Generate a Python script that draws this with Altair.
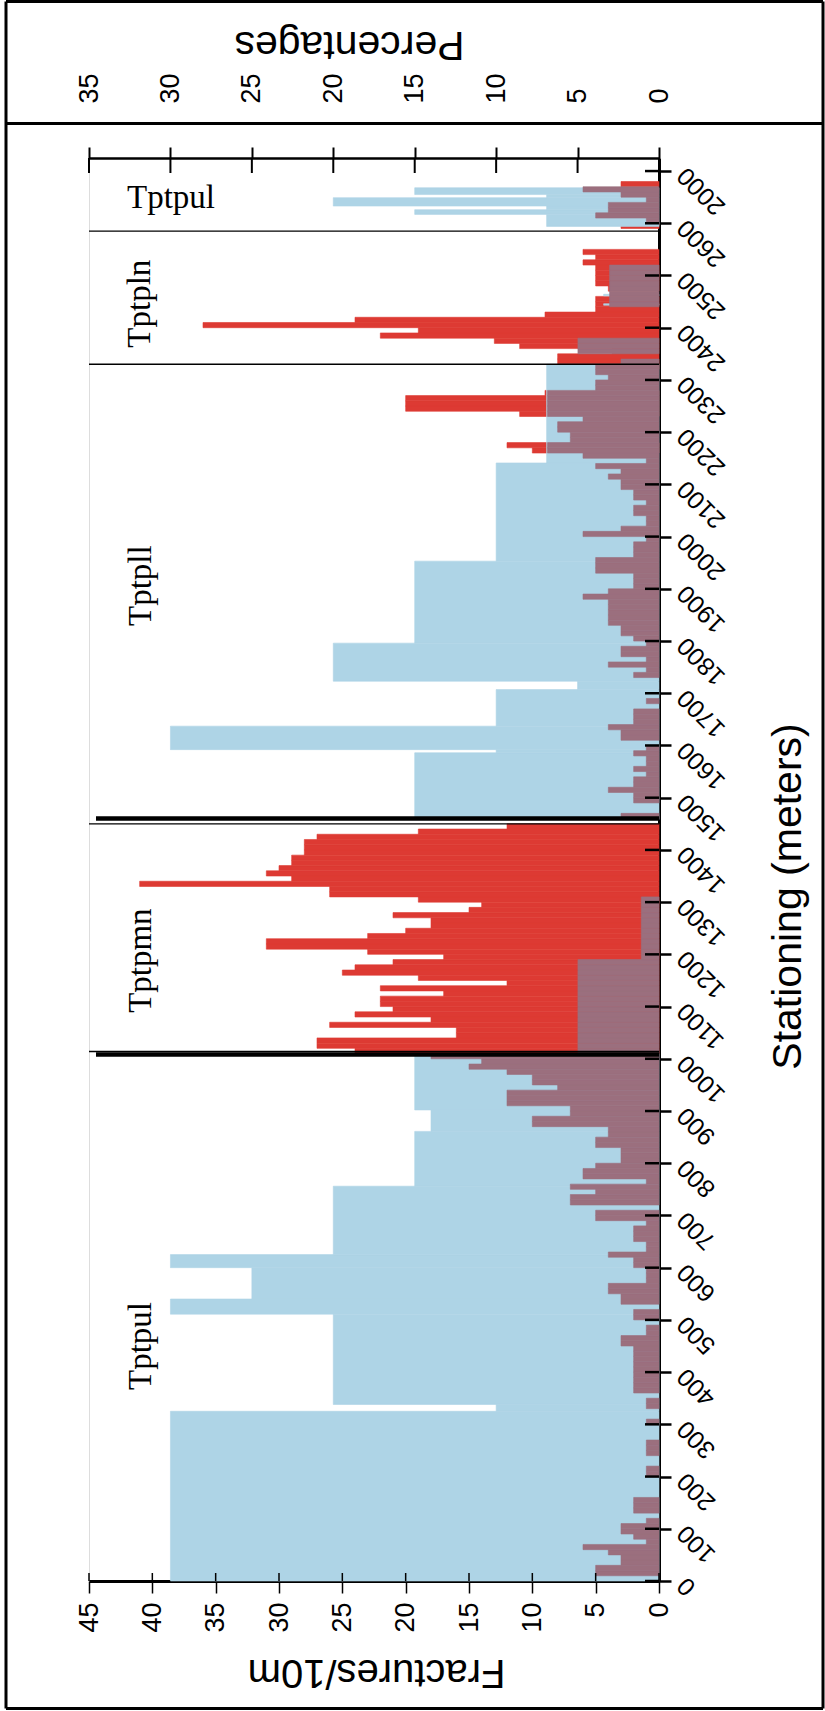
import altair as alt
import pandas as pd

# ---------------- data ----------------
BIN = 10  # metres per bin

# mauve series: fractures/10m, one value per 10-m bin, starting at 0 m
mauve_tptpul = [0, 5, 5, 3, 3, 4, 6, 1, 2, 3,
                3, 1, 0, 2, 2, 2, 0, 0, 0, 0,
                1, 1, 0, 0, 1, 1, 1, 0, 0, 0,
                1, 0, 0, 1, 1, 0, 2, 2, 2, 2,
                2, 2, 2, 2, 2, 3, 3, 1, 1, 0,
                2, 2, 0, 3, 3, 4, 4, 1, 1, 1,
                2, 2, 4, 1, 1, 2, 2, 2, 1, 5,
                5, 0, 7, 7, 5, 7, 1, 6, 6, 5,
                3, 3, 3, 5, 5, 4, 4, 10, 10, 7,
                7, 12, 12, 12, 8, 10, 10, 12, 15, 14,
                18]
mauve_tptpmn = [6.4] * 18 + [1.4] * 12 + [0] * 15
mauve_tptpll = [3, 0, 0, 2, 2, 4, 2, 2, 1, 2,
                1, 1, 2, 1, 0, 3, 3, 4, 2, 2,
                2, 0, 1, 0, 0, 0, 0, 2, 1, 4,
                1, 3, 3, 1, 2, 3, 3, 4, 4, 4,
                4, 4, 6, 4, 2, 2, 2, 5, 5, 5,
                2, 2, 2, 1, 6, 3, 1, 1, 2, 2,
                1, 2, 2, 3, 3, 4, 3, 5, 1, 6,
                8.8, 8.8, 7, 7, 8, 8, 6, 8.8, 8.8, 8.8,
                8.8, 8.8, 5, 5, 4, 5, 5]
mauve_tptpln = [3, 0, 6.4, 6.4, 6.4, 0, 0, 0, 0, 0,
                0, 3.9, 3.9, 3.9, 3.9, 3.9, 3.9, 3.9, 3.9, 0,
                0, 0, 0, 0, 0, 0]
mauve_tptpul_top = [0, 1, 5, 4, 4, 1, 3, 6, 0, 0, 0]

# red series: fractures/10m, bin start (m) and value
red_start = list(range(1010, 1450, 10)) + [2160, 2170, 2230, 2240, 2250, 2260, 2270, 2320] \
    + list(range(2330, 2550, 10)) + [2590, 2670]
red_value = [24, 27, 27, 16, 16, 26, 18, 24, 21, 22,
             22, 17, 22, 12, 19, 25, 24, 21, 17, 23,
             31, 31, 23, 20, 18, 18, 21, 15, 14, 19,
             26, 26, 41, 29, 31, 30, 29, 29, 28, 28,
             28, 27, 19, 12,
             10, 12, 11, 20, 20, 20, 9, 5,
             8, 8, 3.7, 11, 13, 22, 19, 36, 24, 9,
             5, 5, 5, 0, 4, 5, 5, 5, 5, 6, 5, 6,
             3, 3]

# blue series: percentages, segment start / end (m) and value
blue_start = [0, 325, 338, 511, 540, 600, 625, 756, 861, 902,
              1458, 1586, 1592, 1637, 1707, 1723, 1796, 1953, 2141,
              2443, 2461,
              2594, 2617, 2626, 2633, 2649, 2655]
blue_end = [325, 338, 511, 540, 600, 625, 756, 861, 902, 1010,
            1586, 1592, 1637, 1707, 1723, 1796, 1953, 2141, 2330,
            2446, 2464,
            2617, 2626, 2633, 2649, 2655, 2668]
blue_pct = [30, 10, 20, 30, 25, 30, 20, 15, 14, 15,
            15, 10, 30, 10, 5, 20, 15, 10, 6.9,
            3.4, 3.4,
            6.9, 15, 6.9, 20, 6.9, 15]

# formation boundaries (m)
thick_bounds = [1008, 1460]
thin_bounds = [1014, 1450, 2330, 2585]

# formation labels
unit_names = ["Tptpul", "Tptpmn", "Tptpll", "Tptpln"]
unit_x = [40.9, 40.9, 40.9, 41.0]
unit_s = [450, 1188, 1906, 2446]
top_name = ["Tptpul"]
top_x = [42.0]
top_s = [2630]

station_ticks = list(range(0, 2701, 100))
frac_ticks = list(range(0, 46, 5))
pct_ticks = list(range(0, 36, 5))

# ---------------- tables ----------------
mauve = mauve_tptpul + mauve_tptpmn + mauve_tptpll + mauve_tptpln + mauve_tptpul_top
mauve_df = pd.DataFrame({"s": [i * BIN for i in range(len(mauve))], "v": mauve})
mauve_df["e"] = mauve_df["s"] + BIN
mauve_df["zero"] = 0
mauve_df = mauve_df[mauve_df["v"] > 0]

red_df = pd.DataFrame({"s": red_start, "v": red_value})
red_df["e"] = red_df["s"] + BIN
red_df["zero"] = 0
red_df = red_df[red_df["v"] > 0]

blue_df = pd.DataFrame({"s": blue_start, "e": blue_end, "pct": blue_pct})
blue_df["zero"] = 0

W, H = 570, 1423
FONT = "Liberation Sans"
BLUE = "#AED4E6"
MAUVE = "#9B6F7E"
RED = "#DD3A33"

FRAC = alt.Scale(domain=[0, 45], reverse=True, nice=False, zero=False)
PCT = alt.Scale(domain=[0, 35], reverse=True, nice=False, zero=False)
YS = alt.Scale(domain=[0, 2725], nice=False, zero=False)

right_axis = alt.Axis(
    orient="right", values=station_ticks, format="d",
    labelExpr="datum.value == 2700 ? '2000' : datum.label",
    labelAngle=225, labelAlign="right", labelBaseline="middle",
    labelFont=FONT, labelFontSize=25, labelColor="black", labelPadding=10,
    labelOverlap=False, labelFlush=False, labelBound=False,
    tickSize=12, tickWidth=2.5, tickColor="black",
    domainColor="black", domainWidth=3, grid=False,
    title="Stationing (meters)", titleFont=FONT, titleFontSize=41,
    titleFontWeight="normal", titleColor="black", titleAngle=270,
    titleAlign="center", titleBaseline="middle", titleX=129, titleY=738,
)
bottom_axis = alt.Axis(
    orient="bottom", values=frac_ticks,
    labelAngle=270, labelAlign="right", labelBaseline="middle",
    labelFont=FONT, labelFontSize=27, labelColor="black", labelPadding=9,
    labelOverlap=False, labelFlush=False,
    tickSize=12, tickWidth=1.5, tickColor="black",
    domainColor="black", domainWidth=3, grid=False,
    title="Fractures/10m", titleFont=FONT, titleFontSize=40,
    titleFontWeight="normal", titleColor="black", titleAngle=180,
    titleAlign="center", titleBaseline="middle", titleX=287, titleY=90,
)
top_axis = alt.Axis(
    orient="top", values=pct_ticks,
    labelAngle=270, labelAlign="left", labelBaseline="middle",
    labelFont=FONT, labelFontSize=27, labelColor="black", labelPadding=44,
    labelOverlap=False, labelFlush=False,
    tickSize=11, tickWidth=2, tickColor="black",
    domainColor="black", domainWidth=2.5, grid=False,
    title="Percentages", titleFont=FONT, titleFontSize=41,
    titleFontWeight="normal", titleColor="black", titleAngle=180,
    titleAlign="center", titleBaseline="middle", titleX=260, titleY=-115,
)

# every layer uses the same stationing encoding, so the shared axis survives the merge
def ystation():
    return alt.Y("s:Q", scale=YS, axis=right_axis, title="Stationing (meters)")

red = alt.Chart(red_df).mark_rect(color=RED, stroke=RED, strokeWidth=0.6).encode(
    x=alt.X("v:Q", scale=FRAC, axis=bottom_axis),
    x2="zero:Q",
    y=ystation(),
    y2="e:Q",
)
blue = alt.Chart(blue_df).mark_rect(color=BLUE, stroke=BLUE, strokeWidth=0.6).encode(
    x=alt.X("pct:Q", scale=PCT, axis=top_axis),
    x2="zero:Q",
    y=ystation(),
    y2="e:Q",
)
purple = alt.Chart(mauve_df).mark_rect(color=MAUVE, stroke=MAUVE, strokeWidth=0.6).encode(
    x=alt.X("v:Q", scale=FRAC, axis=None),
    x2="zero:Q",
    y=ystation(),
    y2="e:Q",
)

thick = alt.Chart(pd.DataFrame({"s": thick_bounds})).mark_rule(
    color="black", strokeWidth=4.5).encode(
    x=alt.value(7), x2=alt.value(W), y=ystation())
thin = alt.Chart(pd.DataFrame({"s": thin_bounds})).mark_rule(
    color="black", strokeWidth=1.3).encode(
    x=alt.value(0), x2=alt.value(W), y=ystation())

# inner halves of the crossing tick marks
tick_in_right = alt.Chart(pd.DataFrame({"s": station_ticks})).mark_rule(
    color="black", strokeWidth=2.5).encode(
    x=alt.value(W - 14), x2=alt.value(W), y=ystation())
tick_in_bottom = alt.Chart(pd.DataFrame({"f": frac_ticks})).mark_rule(
    color="black", strokeWidth=1.5).encode(
    x=alt.X("f:Q", scale=FRAC, axis=None), y=alt.value(H - 8), y2=alt.value(H))
tick_in_top = alt.Chart(pd.DataFrame({"p": pct_ticks})).mark_rule(
    color="black", strokeWidth=2).encode(
    x=alt.X("p:Q", scale=PCT, axis=None), y=alt.value(0), y2=alt.value(15))

labels_rot = alt.Chart(pd.DataFrame({"name": unit_names, "x": unit_x, "s": unit_s})).mark_text(
    font="Liberation Serif", fontSize=33, angle=270, align="center",
    baseline="middle", color="black").encode(
    x=alt.X("x:Q", scale=FRAC, axis=None),
    y=ystation(),
    text="name:N")
labels_top = alt.Chart(pd.DataFrame({"name": top_name, "x": top_x, "s": top_s})).mark_text(
    font="Liberation Serif", fontSize=33, align="left",
    baseline="alphabetic", color="black").encode(
    x=alt.X("x:Q", scale=FRAC, axis=None),
    y=ystation(),
    text="name:N")

# outer figure frame (decoration)
L, R, T, B, SEP = -83, 734, -156.5, 1550.5, -34.5
frame_h = [alt.Chart(pd.DataFrame({"k": [0]})).mark_rule(color="black", strokeWidth=3).encode(
    x=alt.value(L), x2=alt.value(R), y=alt.value(yv)) for yv in (T, B, SEP)]
frame_v = [alt.Chart(pd.DataFrame({"k": [0]})).mark_rule(color="black", strokeWidth=3).encode(
    x=alt.value(xv), y=alt.value(T), y2=alt.value(B)) for xv in (L, R)]

chart = alt.layer(
    red, blue, purple, thick, thin,
    tick_in_right, tick_in_bottom, tick_in_top,
    labels_rot, labels_top, *frame_h, *frame_v,
).resolve_scale(x="independent").properties(
    width=W, height=H,
    padding={"left": 89, "top": 158, "right": 825 - 89 - W, "bottom": 1711 - 158 - H},
    autosize=alt.AutoSizeParams(type="none"),
).configure_view(stroke="black", strokeWidth=2.5).configure(background="white")

chart.save("out.html", embed_options={"renderer": "svg", "actions": False})
